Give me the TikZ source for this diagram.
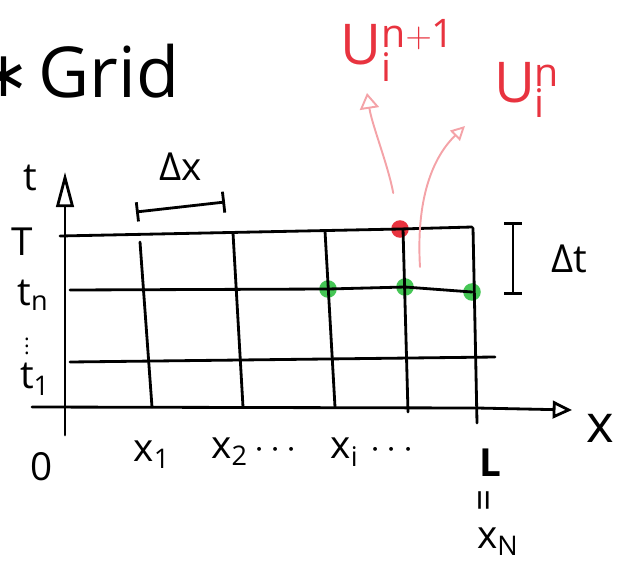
\documentclass[tikz,border=0pt]{standalone}
\usepackage{fontspec}
\setmainfont{Open Sans}
\newfontfamily\simboli{DejaVu Sans}
\usepackage{xcolor}
\usepackage{tikz}
\usetikzlibrary{arrows.meta}
\usetikzlibrary{calc, positioning}

\definecolor{rosso}{HTML}{E8333F}
\definecolor{rosa}{HTML}{F4A3A8}
\definecolor{verde}{HTML}{45C655}

\begin{document}
\begin{tikzpicture}[
      x=0.02cm, y=-0.02cm,
      line width=1.6pt, line cap=round, line join=round,
      lbl/.style={font=\fontsize{22}{24}\selectfont, inner sep=1pt},
      ulbl/.style={font=\fontsize{32}{36}\selectfont, text=rosso, inner sep=1pt},
      freccia/.style={rosa, line width=1.1pt, -{Triangle[open, length=9pt, width=11pt]}},
      punto/.style={circle, fill=#1, inner sep=0pt, minimum size=10pt}
    ]
    \useasboundingbox (0,0) rectangle (618,561);

    % Titolo
    \node[font=\fontsize{40}{44}\selectfont, anchor=base west, inner sep=0pt] (titolo) at (37,97) {Grid};
    \node[font=\fontsize{36}{40}\selectfont\simboli, inner sep=0pt] (stella) at (4,77) {∗};

    % Assi
    \coordinate (tbase) at (65,435);
    \coordinate (ttip) at (65,172);
    \coordinate (xbase) at (32,407);
    \coordinate (xL) at (477,408);
    \coordinate (xtip) at (572,410);
    \draw[-{Triangle[open, length=20pt, width=10pt]}] (tbase) -- (ttip);
    \draw[-{Triangle[open, length=11pt, width=10pt]}] (xbase) -- (xL) -- (xtip);

    % Punti della griglia
    \node[punto=rosso] (pR) at (400,229) {};
    \node[punto=verde] (pV1) at (328,289) {};
    \node[punto=verde] (pV2) at (405,287) {};
    \node[punto=verde] (pV3) at (472,292) {};

    % Griglia
    \draw (60,236) -- (pR.center) -- (472,227);
    \draw (70,290) -- (pV1.center) -- (pV2.center) -- (pV3.center);
    \draw (70,362) -- (495,357);
    \foreach \xa/\ya/\xb/\yb in {140/242/152/407, 233/233/243/407, 325/231/335/407, 403/229/408/412, 473/228/477/423}
      \draw (\xa,\ya) -- (\xb,\yb);

    % Etichette asse t
    \node[lbl] (tlbl) at (30,178) {t};
    \node[lbl] (Tlbl) at (22,242) {T};
    \node[lbl, inner sep=0pt] (tnlbl) at (33,295) {$\mathrm{t}_{\mathrm{n}}$};
    \node[font=\fontsize{12}{14}\selectfont, inner sep=0pt] (vdots) at (27,341) {$\vdots$};
    \node[lbl, inner sep=0pt] (t1lbl) at (35,379) {$\mathrm{t}_{\mathrm{1}}$};

    % Etichette asse x
    \node[lbl] (zero) at (42,467) {0};
    \node[lbl] (x1lbl) at (152,455) {$\mathrm{x}_{\mathrm{1}}$};
    \node[lbl] (x2lbl) at (254,452) {$\mathrm{x}_{\mathrm{2}}\cdots$};
    \node[lbl] (xilbl) at (372,452) {$\mathrm{x}_{\mathrm{i}}\,\cdots$};
    \node[lbl, font=\fontsize{22}{24}\selectfont\bfseries] (Llbl) at (490,463) {L};
    \node[lbl, rotate=90] (uguale) at (488,500) {=};
    \node[lbl] (xNlbl) at (498,542) {$\mathrm{x}_{\mathrm{N}}$};
    \node[lbl, font=\fontsize{30}{32}\selectfont] (xlbl) at (600,428) {x};

    % Intervalli
    \coordinate (dxa) at (136,212);
    \coordinate (dxb) at (225,202);
    \coordinate (dxm) at ($(dxa)!0.5!(dxb)$);
    \draw[{Bar[width=11pt]}-{Bar[width=12pt]}] (dxa) -- (dxb);
    \node[lbl, above=13pt of dxm] (dxlbl) {Δx};

    \coordinate (dta) at (513,222);
    \coordinate (dtb) at (513,295);
    \coordinate (dtm) at ($(dta)!0.5!(dtb)$);
    \draw[{Bar[width=10pt]}-{Bar[width=10pt]}] (dta) -- (dtb);
    \node[lbl, right=20pt of dtm] (dtlbl) {Δt};

    % Valori U
    \node[ulbl] (Unp1) at (398,50) {$\mathrm{U}_{\mathrm{i}}^{\mathrm{n+1}}$};
    \node[ulbl] (Un) at (527,90) {$\mathrm{U}_{\mathrm{i}}^{\mathrm{n}}$};

    % Frecce
    \coordinate (f1) at (367,93);
    \coordinate (f2) at (465,126);
    \draw[freccia, shorten <=15pt] (pR) .. controls (388,165) and (372,125) .. (f1);
    \draw[freccia, -{Triangle[open, length=8pt, width=8pt]}] ($(pV2)+(15,-20)$) .. controls (416,200) and (432,158) .. (f2);
  \end{tikzpicture}
\end{document}
